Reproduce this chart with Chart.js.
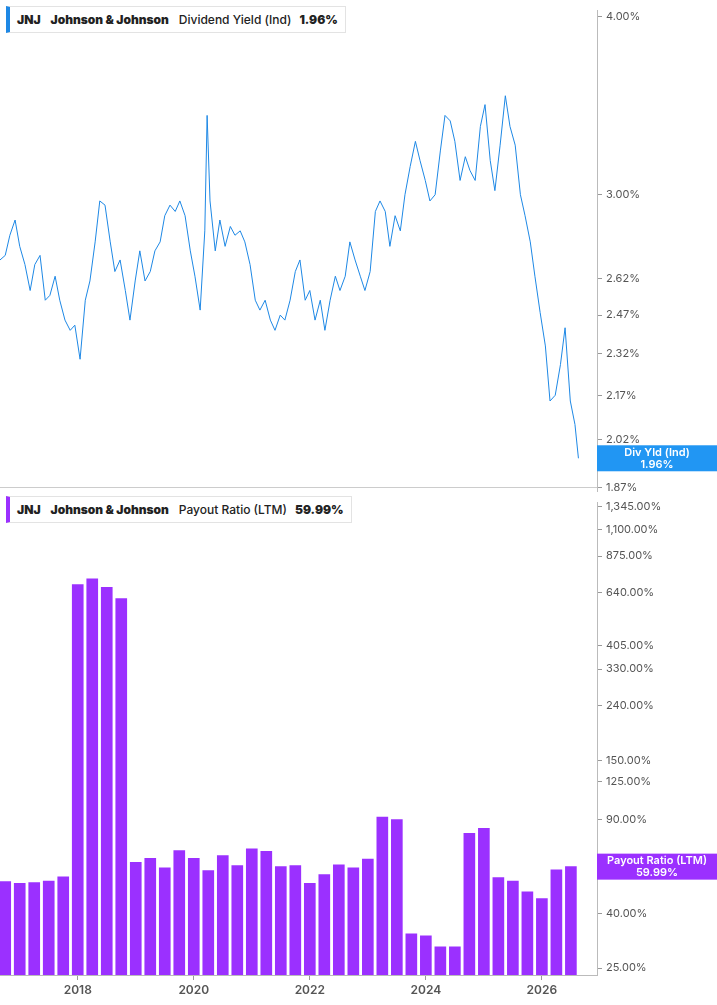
<!DOCTYPE html>
<html><head><meta charset="utf-8">
<script src="https://cdn.jsdelivr.net/npm/chart.js@4"></script>
<style>
body{margin:0;background:#fff;width:717px;height:1005px;position:relative;overflow:hidden;font-family:Inter,"Noto Sans",sans-serif}
.pane{position:absolute;left:0;width:717px}
.leg{position:absolute;left:6px;background:#fff;border:1px solid #e3e3e3;border-left:4px solid;font:600 12px Inter,sans-serif;color:#222;padding:5px 7px;white-space:nowrap}
.leg b{margin-right:10px}
.sep{position:absolute;left:0;top:487px;width:597px;height:1px;background:#ccc}
</style></head><body>
<div class="pane" style="top:0;height:508px"><canvas id="c1"></canvas></div>
<div class="pane" style="top:492px;height:513px;background:#fff"><canvas id="c2"></canvas></div>
<div class="sep"></div>
<div class="leg" style="top:6px;border-left-color:#1e88e5"><b>JNJ</b><b>Johnson &amp; Johnson</b><span style="font-weight:500;margin-right:8px">Dividend Yield (Ind)</span><b style="margin:0">1.96%</b></div>
<div class="leg" style="top:496px;border-left-color:#9b30ff"><b>JNJ</b><b>Johnson &amp; Johnson</b><span style="font-weight:500;margin-right:8px">Payout Ratio (LTM)</span><b style="margin:0">59.99%</b></div>
<script>
const yieldDates=[2016.66,2016.75,2016.83,2016.92,2017.00,2017.09,2017.18,2017.26,2017.35,2017.44,2017.52,2017.61,2017.69,2017.78,2017.87,2017.95,2018.04,2018.13,2018.21,2018.30,2018.38,2018.47,2018.56,2018.64,2018.73,2018.82,2018.90,2018.99,2019.07,2019.16,2019.25,2019.33,2019.42,2019.50,2019.59,2019.68,2019.76,2019.85,2019.94,2020.02,2020.11,2020.19,2020.23,2020.28,2020.37,2020.45,2020.54,2020.63,2020.71,2020.80,2020.88,2020.97,2021.06,2021.14,2021.23,2021.32,2021.40,2021.49,2021.57,2021.66,2021.75,2021.83,2021.92,2022.00,2022.09,2022.18,2022.26,2022.35,2022.44,2022.52,2022.61,2022.69,2022.78,2022.87,2022.95,2023.04,2023.13,2023.21,2023.30,2023.38,2023.47,2023.56,2023.64,2023.73,2023.82,2023.90,2023.99,2024.07,2024.16,2024.25,2024.33,2024.42,2024.50,2024.59,2024.68,2024.76,2024.85,2024.94,2025.02,2025.11,2025.19,2025.28,2025.37,2025.45,2025.54,2025.63,2025.71,2025.80,2025.88,2025.97,2026.06,2026.14,2026.23,2026.32,2026.40,2026.49,2026.57,2026.63];
const yieldValues=[2.70,2.72,2.81,2.88,2.76,2.68,2.57,2.68,2.72,2.53,2.55,2.63,2.53,2.45,2.41,2.43,2.30,2.53,2.61,2.78,2.97,2.95,2.78,2.65,2.70,2.57,2.45,2.61,2.74,2.61,2.65,2.74,2.78,2.90,2.95,2.92,2.97,2.90,2.74,2.63,2.49,2.83,3.41,2.97,2.74,2.88,2.76,2.85,2.81,2.83,2.78,2.68,2.53,2.49,2.53,2.45,2.41,2.47,2.45,2.53,2.65,2.70,2.53,2.57,2.45,2.53,2.41,2.53,2.63,2.57,2.63,2.78,2.70,2.63,2.57,2.65,2.92,2.97,2.92,2.76,2.90,2.83,3.00,3.14,3.27,3.17,3.07,2.97,3.00,3.22,3.41,3.38,3.27,3.07,3.19,3.12,3.07,3.35,3.47,3.17,3.02,3.25,3.52,3.35,3.25,3.00,2.90,2.78,2.63,2.48,2.35,2.15,2.17,2.28,2.42,2.15,2.07,1.96];
const yieldTicks=[1.87,2.02,2.17,2.32,2.47,2.62,3.00,4.00];
const payoutDates=[2016.75,2017.00,2017.25,2017.50,2017.75,2018.00,2018.25,2018.50,2018.75,2019.00,2019.25,2019.50,2019.75,2020.00,2020.25,2020.50,2020.75,2021.00,2021.25,2021.50,2021.75,2022.00,2022.25,2022.50,2022.75,2023.00,2023.25,2023.50,2023.75,2024.00,2024.25,2024.50,2024.75,2025.00,2025.25,2025.50,2025.75,2026.00,2026.25,2026.50];
const payoutValues=[52.7,52,52.3,53,55,684,719,668,606,62.3,64.5,59.4,68.9,64.5,58,66,60.6,70,68.4,60,60.6,52,56,61,59.4,64,92,90,33.6,33,30,30,80,83.5,54.6,53,48.3,45.5,58.3,59.99];
const payoutTicks=[25,40,90,125,150,240,330,405,640,875,1100,1345];
const yearTicks=[2018,2020,2022,2024,2026];

const X0=2016.66,X1=2026.95;
const tickFont={family:'Inter',size:11};
function badge(text1,text2,val,color){
  return {id:'b'+color.slice(1),afterDraw(ch){
    const y=ch.scales.y.getPixelForValue(val),c=ch.ctx;
    c.save();c.fillStyle=color;c.fillRect(597,y-13,120,26);
    c.fillStyle='#fff';c.font='600 11px Inter';c.textAlign='center';c.textBaseline='middle';
    c.fillText(text1,657,y-6);c.fillText(text2,657,y+6);c.restore();}};
}
const yAxisCommon=(ticks,fmt,min,max)=>({type:'logarithmic',position:'right',min,max,
  afterBuildTicks(s){s.ticks=ticks.map(v=>({value:v}));},
  afterFit(s){s.width=120;},
  grid:{drawOnChartArea:false,tickLength:5,color:'#999'},border:{color:'#bbb'},
  ticks:{font:tickFont,color:'#555',padding:4,callback:v=>fmt(v),autoSkip:false}});

new Chart(document.getElementById('c1'),{type:'line',
 data:{datasets:[{data:yieldDates.map((d,i)=>({x:d,y:yieldValues[i]})),borderColor:'#1e88e5',borderWidth:1,pointRadius:0,tension:0}]},
 options:{responsive:true,maintainAspectRatio:false,animation:false,layout:{padding:0,autoPadding:false},
  plugins:{legend:{display:false},tooltip:{enabled:false}},
  scales:{x:{type:'linear',min:X0,max:X1,display:false},
   y:yAxisCommon(yieldTicks,v=>v.toFixed(2)+'%',1.840,4.039)}},
 plugins:[badge('Div Yld (Ind)','1.96%',1.96,'#2196f3')]});

new Chart(document.getElementById('c2'),{type:'bar',
 data:{datasets:[{data:payoutDates.map((d,i)=>({x:d,y:payoutValues[i]})),backgroundColor:'#9b30ff',barThickness:11}]},
 options:{responsive:true,maintainAspectRatio:false,animation:false,layout:{padding:0,autoPadding:false},
  plugins:{legend:{display:false},tooltip:{enabled:false}},
  scales:{x:{type:'linear',offset:false,min:X0,max:X1,afterBuildTicks(s){s.ticks=yearTicks.map(v=>({value:v}));},
    afterFit(s){s.height=30;},grid:{drawOnChartArea:false,offset:false,tickLength:5,color:'#999'},border:{color:'#bbb'},
    ticks:{font:{family:'Inter',size:12,weight:'600'},color:'#555',callback:v=>String(v),maxRotation:0}},
   y:yAxisCommon(payoutTicks,v=>v.toLocaleString('en-US',{minimumFractionDigits:2,maximumFractionDigits:2})+'%',23.55,1388)}},
 plugins:[badge('Payout Ratio (LTM)','59.99%',59.99,'#9b30ff')]});
</script></body></html>
